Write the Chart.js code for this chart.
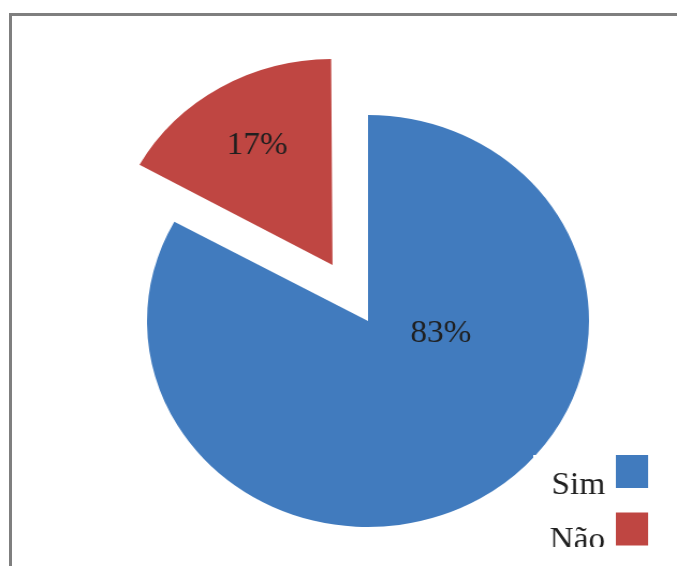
<!DOCTYPE html>
<html>
<head>
<meta charset="utf-8">
<title>Sim / Não</title>
<script src="https://cdn.jsdelivr.net/npm/chart.js@4/dist/chart.umd.min.js"></script>
<style>
  html, body { margin: 0; padding: 0; background: #fff; overflow: hidden; }
  #frame {
    position: absolute; left: 9px; top: 13px; width: 720px; height: 620px;
    border: 3px solid #7f7f7f; box-sizing: border-box;
  }
  /* the source picture is a little wider than tall, so stretch the canvas */
  #wrap {
    position: absolute; left: 0; top: 0; width: 631px; height: 566px;
    transform: scaleX(1.0729); transform-origin: 0 0;
  }
</style>
</head>
<body>
<div id="frame"></div>
<div id="wrap"><canvas id="pieChart" width="631" height="566"></canvas></div>
<script>
// ---- data ----
const categories = ["Sim", "Não"];
const values = [83, 17];
const valueLabels = ["83%", "17%"];

// ---- style ----
const sliceColors = ["#417BBE", "#BF4642"];
// Chart.js v4 moves an arc by offset / 4 pixels, so 260 -> 65px
const sliceOffsets = [0, 260];
const FONT = "31px 'Liberation Serif', 'Times New Roman', serif";
const TEXT_COLOR = "#1f1f1f";
// where each percentage sits: angle in degrees (null = slice middle), distance as share of radius
const labelPlace = [
  { angle: 10.8, dist: 0.335 },
  { angle: null, dist: 0.67 },
];

function arcShift(arc) {
  const o = (arc.options.offset || 0) / 4;
  const fix = 1 - Math.sin(Math.min(Math.PI, arc.circumference || 0));
  return { o, fix };
}

// exploded arcs get a bigger radius in v4, keep them the same size as the rest
const keepRadius = {
  id: "keepRadius",
  afterDatasetsUpdate(chart) {
    chart.getDatasetMeta(0).data.forEach((arc) => {
      const { o, fix } = arcShift(arc);
      if (o) arc.outerRadius -= o * fix;
    });
  },
};

// percentage labels on the slices
const sliceLabels = {
  id: "sliceLabels",
  afterDatasetsDraw(chart) {
    const { ctx } = chart;
    const arcs = chart.getDatasetMeta(0).data;
    ctx.save();
    ctx.font = FONT;
    ctx.fillStyle = TEXT_COLOR;
    ctx.textAlign = "center";
    ctx.textBaseline = "middle";
    arcs.forEach((arc, i) => {
      const { x, y, startAngle, endAngle, outerRadius } = arc;
      const mid = (startAngle + endAngle) / 2;
      const { o, fix } = arcShift(arc);
      const r = outerRadius + o * fix;
      const place = labelPlace[i];
      const ang = place.angle == null ? mid : place.angle * Math.PI / 180;
      const lx = x + Math.cos(mid) * o + Math.cos(ang) * r * place.dist;
      const ly = y + Math.sin(mid) * o + Math.sin(ang) * r * place.dist;
      ctx.fillText(valueLabels[i], lx, ly);
    });
    ctx.restore();
  },
};

// legend box in the lower right corner, text left of the colour square
const cornerLegend = {
  id: "cornerLegend",
  afterDraw(chart) {
    const { ctx, width } = chart;
    const box = { left: 497, top: 455, bottom: 547 };
    ctx.save();
    ctx.fillStyle = "#fff";
    ctx.fillRect(box.left, box.top, width - box.left, box.bottom - box.top);
    ctx.beginPath();
    ctx.rect(box.left, box.top, width - box.left, box.bottom - box.top);
    ctx.clip();
    ctx.font = FONT;
    ctx.textAlign = "right";
    ctx.textBaseline = "alphabetic";
    const colors = chart.data.datasets[0].backgroundColor;
    chart.data.labels.forEach((label, i) => {
      const top = box.top + i * 57.5;
      ctx.fillStyle = colors[i];
      ctx.fillRect(574, top, 30, 33);
      ctx.fillStyle = TEXT_COLOR;
      ctx.fillText(label, 564, top + 38.5 - i * 2);
    });
    ctx.restore();
  },
};

new Chart(document.getElementById("pieChart"), {
  type: "pie",
  data: {
    labels: categories,
    datasets: [
      {
        data: values,
        backgroundColor: sliceColors,
        borderWidth: 0,
        offset: sliceOffsets,
        hoverOffset: 0,
        radius: 206,
      },
    ],
  },
  options: {
    responsive: false,
    animation: false,
    events: [],
    layout: { padding: { left: 60, right: 5, top: 80, bottom: 4 } },
    plugins: {
      legend: { display: false },
      tooltip: { enabled: false },
    },
  },
  plugins: [keepRadius, sliceLabels, cornerLegend],
});
</script>
</body>
</html>
